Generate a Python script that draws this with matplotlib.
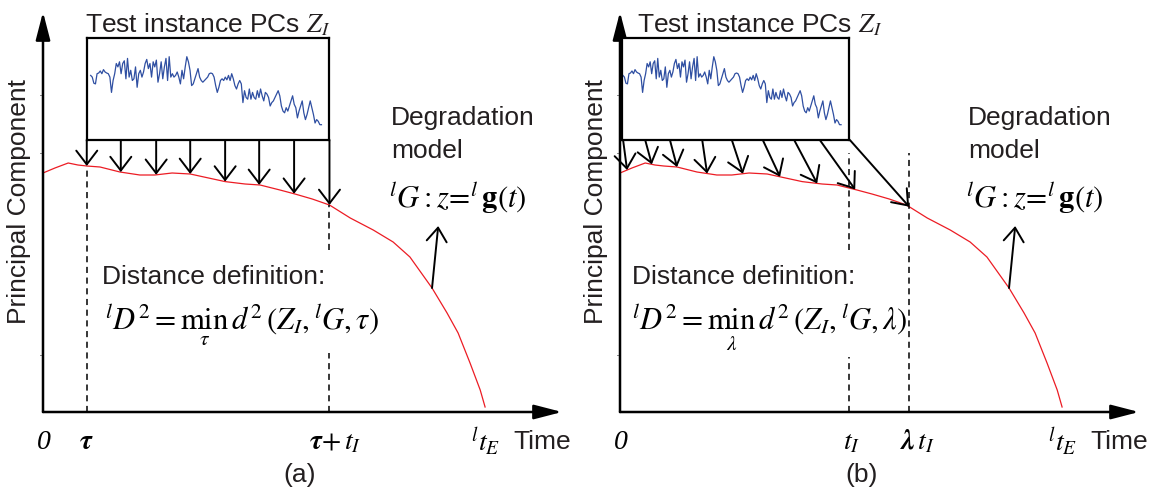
import numpy as np
import matplotlib.pyplot as plt

plt.rcParams['font.family'] = ['Liberation Sans', 'DejaVu Sans']
plt.rcParams['mathtext.fontset'] = 'stix'

# Degradation model curve  (time, principal component)
model_t = [0, 2.7, 5.7, 7.9, 9.9, 12.9, 17.4, 21.9, 25.3, 29.2, 33.3, 36.2, 41.2, 45.7,
           49.1, 53.6, 57.0, 60.9, 64.8, 69.5, 74.7, 79.2, 83.0, 88.0, 91.4, 93.9, 96.6,
           98.9, 100]
model_z = [59.75, 61, 62.25, 61.75, 61.5, 61.25, 60, 59.25, 59.25, 59.75, 59.5, 58.8, 57.6,
           57, 56.75, 55.5, 54.5, 53.25, 51.75, 48.5, 45.5, 42.5, 38.75, 31, 24.75, 19.75,
           12.25, 5.5, 1.25]

# Test instance PC trace (shown inside the box)
test_z = [1.65, 1.60, 1.42, 1.40, 1.70, 1.72, 1.78, 1.70, 1.82, 1.75, 1.72, 1.70, 1.60, 1.15,
          1.50, 1.70, 2.00, 1.90, 2.05, 1.70, 2.00, 2.08, 1.55, 2.15, 1.60, 1.80, 1.50, 1.55,
          1.90, 1.30, 1.70, 1.80, 1.60, 1.75, 2.00, 2.12, 1.85, 2.00, 1.60, 2.05, 1.90, 2.10,
          1.45, 1.70, 2.05, 1.55, 1.90, 2.15, 1.50, 2.20, 1.60, 1.70, 1.60, 1.65, 1.75, 1.60,
          1.40, 1.80, 1.55, 1.90, 2.20, 2.05, 1.80, 1.35, 1.40, 1.55, 1.70, 1.85, 1.60, 1.50,
          1.45, 1.50, 1.55, 1.60, 1.70, 1.72, 1.70, 1.60, 1.35, 1.15, 1.30, 1.50, 1.55, 1.50,
          1.60, 1.52, 1.65, 1.50, 1.70, 1.55, 1.35, 1.25, 1.40, 1.50, 1.40, 0.85, 1.20, 1.00,
          0.95, 1.25, 0.95, 1.15, 1.00, 0.95, 1.20, 1.00, 1.25, 1.05, 0.90, 1.15, 1.10, 1.00,
          0.75, 0.85, 0.90, 1.00, 1.10, 1.20, 1.05, 0.75, 0.60, 0.55, 0.70, 0.60, 0.75, 0.90,
          1.05, 0.80, 0.70, 0.40, 0.60, 0.75, 0.90, 0.55, 0.35, 0.50, 0.70, 0.90, 0.70, 0.50,
          0.25, 0.35, 0.30, 0.20, 0.20]

# key times
tau = 9.9
tau_tI = 64.8
t_I = 51.8
lam_tI = 65.4
t_E = 100

# arrows from the box to the model
arrows_a = [9.9, 17.6, 25.6, 33.3, 41.2, 48.9, 56.8, 64.8]
arrows_b_start = [0.7, 5.7, 11.3, 18.6, 25.3, 32.3, 39.4, 45.2, 52.0]
arrows_b_end = [1.6, 7.2, 12.9, 19.7, 27.8, 36.2, 44.6, 53.2, 65.4]

box_z = (68, 93.5)
faint_ticks = [14.25, 64.75, 79.25]

red = '#ec1c24'
blue = '#2f4fa2'
txt = '#231f20'

fig = plt.figure(figsize=(11.6, 4.98), dpi=100)


def make_panel(left_px):
    ax = fig.add_axes([left_px / 1160, 86 / 498, 519 / 1160, 400 / 498])
    ax.set_xlim(0, 117.4)
    ax.set_ylim(0, 100)
    ax.axis('off')
    head = dict(color='k', lw=1.8, shrinkA=0, shrinkB=0, mutation_scale=20,
                arrowstyle='-|>,head_length=0.85,head_width=0.22')
    ax.annotate('', xy=(117.4, 0), xytext=(0, 0), arrowprops=head, annotation_clip=False)
    ax.annotate('', xy=(0, 100), xytext=(0, 0), arrowprops=head, annotation_clip=False)
    for y in faint_ticks:
        ax.plot([-0.7, 0], [y, y], color='#888888', lw=0.7, clip_on=False)
    ax.plot(model_t, model_z, color=red, lw=0.9)
    ax.text(-5.5, 52.5, 'Principal Component', rotation=90, ha='center', va='center',
            fontsize=19, color=txt)
    ax.text(106.5, -7.5, 'Time', ha='left', va='center', fontsize=19, color=txt)
    ax.text(0.3, -7.5, '0', ha='center', va='center', fontsize=20,
            family='Liberation Serif', style='italic')
    ax.text(t_E, -7.5, r'${}^{l}t_{E}$', ha='center', va='center', fontsize=20)
    # degradation model label
    ax.text(78.8, 73.5, 'Degradation', ha='left', va='center', fontsize=19, color=txt)
    ax.text(78.8, 65.3, 'model', ha='left', va='center', fontsize=19, color=txt)
    ax.text(78.3, 53.5, r'${}^{l}G: z\!=\!{}^{l}\,\mathbf{g}(t)$', ha='left', va='center',
            fontsize=22)
    base = np.interp(88.0, model_t, model_z)
    ax.annotate('', xy=(89.4, 46.5), xytext=(88.0, base),
                arrowprops=dict(arrowstyle='->,head_length=0.55,head_width=0.4', lw=1.4,
                                color='k', shrinkA=0, shrinkB=0, mutation_scale=18))
    return ax


def test_box(ax, x0, x1, frac, title_x):
    ins = ax.inset_axes([x0, box_z[0], x1 - x0, box_z[1] - box_z[0]], transform=ax.transData)
    n = len(test_z) - 1
    span = n / (frac[1] - frac[0])
    ins.plot(np.arange(len(test_z)), test_z, color=blue, lw=0.9)
    ins.set_xlim(-frac[0] * span, n + (1 - frac[1]) * span)
    ins.set_ylim(-0.25, 2.75)
    ins.set_xticks([])
    ins.set_yticks([])
    for s in ins.spines.values():
        s.set_linewidth(1.6)
    ax.text(title_x, 95, r'Test instance PCs $Z_I$', ha='left',
            va='baseline', fontsize=19, color=txt)
    return ins


def dashed(ax, x, top, gap=None):
    kw = dict(color='k', lw=1.1, ls=(0, (4, 3)))
    if gap is None:
        ax.plot([x, x], [0, top], **kw)
    else:
        ax.plot([x, x], [0, gap[0]], **kw)
        ax.plot([x, x], [gap[1], top], **kw)


arr = dict(arrowstyle='->,head_length=0.55,head_width=0.42', lw=1.4, color='k',
           shrinkA=0, shrinkB=0, mutation_scale=18)

# ---------------- panel (a)
ax1 = make_panel(43)
test_box(ax1, tau, tau_tI, (0.016, 0.967), 9.6)
for t in arrows_a:
    ax1.annotate('', xy=(t, np.interp(t, model_t, model_z)), xytext=(t, box_z[0]),
                 arrowprops=arr)
dashed(ax1, tau, np.interp(tau, model_t, model_z))
dashed(ax1, tau_tI, np.interp(tau_tI, model_t, model_z), gap=(14.75, 40.5))
ax1.text(13.3, 33.75, 'Distance definition:', ha='left', va='center', fontsize=19, color=txt)
ax1.text(14.0, 20.5, r'${}^{l}D^{2}=\min_{\tau}\,d^{2}(Z_{I},{}^{l}G,\tau)$', ha='left',
         va='baseline', fontsize=22)
ax1.text(tau, -7.5, r'$\mathbfit{\tau}$', ha='center', va='center', fontsize=20)
ax1.text(66.0, -7.5, r'$\mathbfit{\tau}\!+t_{I}$', ha='center', va='center', fontsize=20)

# ---------------- panel (b)
ax2 = make_panel(620)
test_box(ax2, 0.45, t_I, (0.004, 0.965), 3.8)
for t0, t1 in zip(arrows_b_start, arrows_b_end):
    ax2.annotate('', xy=(t1, np.interp(t1, model_t, model_z)), xytext=(t0, box_z[0]),
                 arrowprops=arr)
dashed(ax2, t_I, 64.75, gap=(13.75, 40.5))
dashed(ax2, lam_tI, 64.75)
ax2.text(2.7, 33.75, 'Distance definition:', ha='left', va='center', fontsize=19, color=txt)
ax2.text(2.7, 20.5, r'${}^{l}D^{2}=\min_{\lambda}\,d^{2}(Z_{I},{}^{l}G,\lambda)$', ha='left',
         va='baseline', fontsize=22)
ax2.text(52.5, -7.5, r'$t_{I}$', ha='center', va='center', fontsize=20)
ax2.text(67.3, -7.5, r'$\mathbfit{\lambda}\,t_{I}$', ha='center', va='center', fontsize=20)

fig.text(300 / 1160, 1 - 475 / 498, '(a)', ha='center', va='center', fontsize=19, color=txt)
fig.text(862 / 1160, 1 - 475 / 498, '(b)', ha='center', va='center', fontsize=19, color=txt)

fig.savefig('out.png', dpi=100)
